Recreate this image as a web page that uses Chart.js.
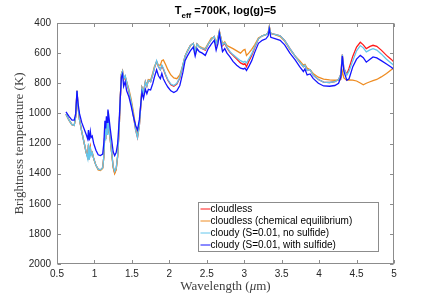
<!DOCTYPE html>
<html>
<head>
<meta charset="utf-8">
<script src="https://cdn.jsdelivr.net/npm/chart.js@4"></script>
<style>
  html, body { margin: 0; padding: 0; background: #fff; }
</style>
</head>
<body>
<canvas id="myChart" width="436" height="297"></canvas>
<script>
const wavelength = [
  0.62, 0.66, 0.70, 0.73, 0.75, 0.767, 0.78, 0.80, 0.83, 0.86, 0.89, 0.91, 0.92, 0.93, 0.945, 0.955, 0.97, 0.99,
  1.02, 1.05, 1.08, 1.11, 1.125, 1.14, 1.15, 1.16, 1.17, 1.18, 1.19, 1.21, 1.23, 1.25, 1.27, 1.29, 1.31, 1.33,
  1.345, 1.36, 1.375, 1.39, 1.41, 1.43, 1.46, 1.49, 1.52, 1.55, 1.575, 1.60, 1.62, 1.635, 1.655, 1.68, 1.70,
  1.72, 1.75, 1.78, 1.80, 1.83, 1.855, 1.88, 1.90, 1.92, 1.95, 1.98, 2.02, 2.06, 2.10, 2.14, 2.18, 2.21, 2.24,
  2.28, 2.32, 2.345, 2.37, 2.40, 2.44, 2.48, 2.52, 2.56, 2.60, 2.625, 2.65, 2.668, 2.69, 2.71, 2.74, 2.77, 2.81,
  2.85, 2.90, 2.95, 2.99, 3.01, 3.03, 3.06, 3.10, 3.14, 3.19, 3.24, 3.29, 3.32, 3.335, 3.355, 3.41, 3.48, 3.54,
  3.61, 3.68, 3.74, 3.79, 3.81, 3.84, 3.88, 3.92, 3.99, 4.06, 4.14, 4.21, 4.26, 4.29, 4.31, 4.33, 4.37, 4.40,
  4.45, 4.50, 4.55, 4.59, 4.63, 4.68, 4.72, 4.77, 4.83, 4.90, 4.96, 5.00
];

const cloudless = [
  1005, 1045, 1075, 1080, 1020, 850, 950, 1040, 1120, 1190, 1260, 1290, 1210, 1300, 1230, 1270, 1260, 1300,
  1345, 1370, 1375, 1360, 1290, 1110, 1170, 1060, 1130, 990, 1060, 1170, 1260, 1355, 1395, 1370, 1285, 1100,
  900, 740, 720, 775, 755, 795, 855, 925, 1015, 1110, 1160, 1080, 940, 830, 860, 790, 820,
  780, 790, 740, 700, 655, 690, 710, 685, 705, 745, 780, 810, 820, 805, 765, 685, 620, 590,
  550, 535, 590, 540, 560, 570, 580, 540, 510, 490, 545, 500, 455, 505, 550, 535, 565, 595,
  615, 640, 665, 675, 670, 690, 655, 615, 565, 505, 485, 478, 465, 425, 470, 475, 485, 515,
  570, 620, 660, 690, 680, 715, 710, 745, 775, 792, 795, 790, 775, 740, 610, 700, 740, 700,
  620, 560, 528, 545, 570, 555, 548, 555, 580, 615, 640, 660
];

const chemEquilibrium = [
  1005, 1045, 1075, 1080, 1020, 850, 950, 1040, 1120, 1190, 1260, 1290, 1210, 1300, 1230, 1270, 1260, 1300,
  1345, 1375, 1380, 1365, 1290, 1110, 1170, 1060, 1130, 990, 1060, 1170, 1265, 1360, 1400, 1375, 1285, 1100,
  900, 740, 720, 775, 755, 790, 840, 905, 990, 1090, 1150, 1070, 930, 830, 860, 790, 810,
  775, 780, 730, 690, 660, 680, 680, 650, 645, 675, 710, 745, 765, 770, 745, 680, 620, 585,
  550, 535, 585, 540, 555, 565, 570, 535, 500, 495, 535, 495, 455, 500, 540, 525, 550, 560,
  570, 585, 600, 580, 575, 615, 600, 575, 545, 500, 485, 478, 465, 425, 470, 478, 490, 520,
  575, 620, 650, 680, 675, 700, 710, 735, 760, 772, 778, 780, 780, 775, 720, 765, 780, 778,
  779, 785, 798, 810, 800, 790, 782, 775, 758, 735, 712, 697
];

const cloudyNoSulfide = [
  1005, 1045, 1075, 1080, 1020, 850, 950, 1040, 1120, 1190, 1260, 1300, 1200, 1310, 1220, 1280, 1260, 1300,
  1345, 1370, 1375, 1360, 1290, 1110, 1180, 1060, 1140, 990, 1060, 1170, 1260, 1350, 1385, 1365, 1280, 1100,
  900, 740, 720, 770, 750, 790, 850, 920, 1010, 1110, 1160, 1080, 940, 830, 860, 790, 820,
  780, 790, 740, 700, 650, 690, 710, 680, 700, 740, 775, 805, 815, 800, 760, 680, 620, 590,
  550, 535, 590, 540, 560, 570, 575, 540, 510, 490, 540, 500, 455, 505, 545, 530, 560, 590,
  610, 630, 650, 660, 655, 665, 640, 605, 560, 505, 485, 478, 465, 425, 470, 475, 485, 515,
  570, 620, 660, 690, 680, 715, 710, 745, 775, 792, 795, 790, 775, 740, 610, 700, 745, 720,
  650, 585, 550, 565, 592, 578, 570, 580, 605, 640, 665, 682
];

const cloudyWithSulfide = [
  990, 1020, 1045, 1045, 1000, 850, 930, 1000, 1060, 1100, 1140, 1170, 1110, 1180, 1120, 1160, 1150, 1200,
  1245, 1275, 1280, 1270, 1200, 1050, 1100, 1020, 1060, 975, 1010, 1100, 1175, 1255, 1280, 1260, 1200, 1050,
  900, 760, 740, 820, 790, 850, 890, 950, 1020, 1080, 1110, 1040, 930, 860, 900, 840, 870,
  840, 845, 800, 760, 710, 750, 770, 735, 770, 800, 825, 850, 862, 850, 815, 730, 650, 620,
  585, 560, 620, 570, 590, 600, 615, 570, 540, 515, 580, 535, 470, 535, 590, 570, 600, 625,
  655, 680, 700, 705, 700, 715, 690, 650, 595, 535, 515, 505, 485, 440, 495, 503, 515, 545,
  600, 645, 690, 722, 705, 745, 738, 768, 800, 818, 820, 815, 800, 760, 620, 720, 780, 770,
  690, 640, 615, 630, 660, 640, 625, 632, 650, 672, 692, 708
];

const seriesLabels = [
  "cloudless",
  "cloudless (chemical equilibrium)",
  "cloudy (S=0.01, no sulfide)",
  "cloudy (S=0.01, with sulfide)",
];
const seriesColors = ["#ff1a1a", "#ee8c22", "#62c6ec", "#1414ff"];

const xTicks = [0.5, 1, 1.5, 2, 2.5, 3, 3.5, 4, 4.5, 5];
const yTicks = [400, 600, 800, 1000, 1200, 1400, 1600, 1800, 2000];

const axisGrey = "#8c8c8c";
const textGrey = "#262626";

function toPoints(values) {
  return wavelength.map((w, i) => ({ x: w, y: values[i] }));
}

// title, axis labels, inward ticks, legend box
const decorations = {
  id: "decorations",
  afterDraw(chart) {
    const { ctx, chartArea: a, scales } = chart;
    const x = scales.x;
    const y = scales.y;
    ctx.save();

    // frame + inward ticks
    ctx.strokeStyle = axisGrey;
    ctx.lineWidth = 1;
    const L = Math.round(a.left) + 0.5;
    const R = Math.round(a.right) - 0.5;
    const T = Math.round(a.top) + 0.5;
    const B = Math.round(a.bottom) - 0.5;
    ctx.strokeRect(L, T, R - L, B - T);
    ctx.beginPath();
    xTicks.forEach((v) => {
      const px = Math.round(x.getPixelForValue(v)) + 0.5;
      ctx.moveTo(px, B);
      ctx.lineTo(px, B - 3.5);
      ctx.moveTo(px, T);
      ctx.lineTo(px, T + 3.5);
    });
    yTicks.forEach((v) => {
      const py = Math.round(y.getPixelForValue(v)) + 0.5;
      ctx.moveTo(L, py);
      ctx.lineTo(L + 3.5, py);
      ctx.moveTo(R, py);
      ctx.lineTo(R - 3.5, py);
    });
    ctx.stroke();

    // title with subscript
    ctx.fillStyle = "#000";
    ctx.textBaseline = "alphabetic";
    ctx.textAlign = "left";
    const big = "bold 11px 'Liberation Sans', Arial, sans-serif";
    const small = "bold 8px 'Liberation Sans', Arial, sans-serif";
    ctx.font = big;
    const w1 = ctx.measureText("T").width;
    const w3 = ctx.measureText(" =700K, log(g)=5").width;
    ctx.font = small;
    const w2 = ctx.measureText("eff").width;
    let tx = (a.left + a.right) / 2 - (w1 + w2 + w3) / 2;
    ctx.font = big;
    ctx.fillText("T", tx, 14);
    ctx.font = small;
    ctx.fillText("eff", tx + w1, 18);
    ctx.font = big;
    ctx.fillText(" =700K, log(g)=5", tx + w1 + w2, 14);

    // axis titles (serif)
    ctx.fillStyle = "#404040";
    ctx.font = "13px 'Liberation Serif', 'Times New Roman', serif";
    const xa = "Wavelength (";
    const xb = "μ";
    const xc = "m)";
    const wa = ctx.measureText(xa).width;
    ctx.font = "italic 13px 'Liberation Serif', 'Times New Roman', serif";
    const wb = ctx.measureText(xb).width;
    ctx.font = "13px 'Liberation Serif', 'Times New Roman', serif";
    const wc = ctx.measureText(xc).width;
    let lx = (a.left + a.right) / 2 - (wa + wb + wc) / 2;
    ctx.fillText(xa, lx, 290);
    ctx.font = "italic 13px 'Liberation Serif', 'Times New Roman', serif";
    ctx.fillText(xb, lx + wa, 290);
    ctx.font = "13px 'Liberation Serif', 'Times New Roman', serif";
    ctx.fillText(xc, lx + wa + wb, 290);

    ctx.save();
    ctx.translate(23, (a.top + a.bottom) / 2);
    ctx.rotate(-Math.PI / 2);
    ctx.textAlign = "center";
    ctx.fillText("Brightness temperature (K)", 0, 0);
    ctx.restore();

    // legend box in lower right
    const bx = Math.round(a.right) - 195.5;
    const by = Math.round(a.bottom) - 61.5;
    const bw = 180;
    const bh = 49;
    ctx.fillStyle = "#fff";
    ctx.fillRect(bx, by, bw, bh);
    ctx.strokeStyle = axisGrey;
    ctx.strokeRect(bx, by, bw, bh);
    ctx.font = "10px 'Liberation Sans', Arial, sans-serif";
    ctx.textBaseline = "middle";
    seriesLabels.forEach((label, i) => {
      const ry = by + 6.5 + i * 12;
      ctx.strokeStyle = seriesColors[i];
      ctx.lineWidth = 1;
      ctx.beginPath();
      ctx.moveTo(bx + 2, ry);
      ctx.lineTo(bx + 12, ry);
      ctx.stroke();
      ctx.fillStyle = "#000";
      ctx.fillText(label, bx + 12, ry);
    });

    ctx.restore();
  },
};

const ctx = document.getElementById("myChart");

new Chart(ctx, {
  type: "line",
  data: {
    datasets: [
      { label: seriesLabels[3], data: toPoints(cloudyWithSulfide), borderColor: seriesColors[3], order: 0 },
      { label: seriesLabels[2], data: toPoints(cloudyNoSulfide), borderColor: seriesColors[2], order: 1 },
      { label: seriesLabels[1], data: toPoints(chemEquilibrium), borderColor: seriesColors[1], order: 2 },
      { label: seriesLabels[0], data: toPoints(cloudless), borderColor: seriesColors[0], order: 3 },
    ],
  },
  options: {
    responsive: false,
    animation: false,
    devicePixelRatio: 1,
    elements: {
      point: { radius: 0 },
      line: { borderWidth: 1.3, tension: 0 },
    },
    layout: { padding: { left: 0, top: 23, right: 42, bottom: 0 } },
    plugins: {
      legend: { display: false },
      title: { display: false },
      tooltip: { enabled: false },
    },
    scales: {
      x: {
        type: "linear",
        min: 0.5,
        max: 5,
        afterBuildTicks: (scale) => {
          scale.ticks = xTicks.map((v) => ({ value: v }));
        },
        afterFit: (scale) => {
          scale.height = 33;
        },
        grid: { display: false, drawTicks: false },
        border: { display: false },
        ticks: {
          color: textGrey,
          padding: 4,
          font: { family: "'Liberation Sans', Arial, sans-serif", size: 10 },
          callback: (v) => String(v),
        },
      },
      y: {
        type: "linear",
        reverse: true,
        min: 400,
        max: 2000,
        afterBuildTicks: (scale) => {
          scale.ticks = yTicks.map((v) => ({ value: v }));
        },
        afterFit: (scale) => {
          scale.width = 57;
        },
        grid: { display: false, drawTicks: false },
        border: { display: false },
        ticks: {
          color: textGrey,
          padding: 6,
          font: { family: "'Liberation Sans', Arial, sans-serif", size: 10 },
          callback: (v) => String(v),
        },
      },
    },
  },
  plugins: [decorations],
});
</script>
</body>
</html>
